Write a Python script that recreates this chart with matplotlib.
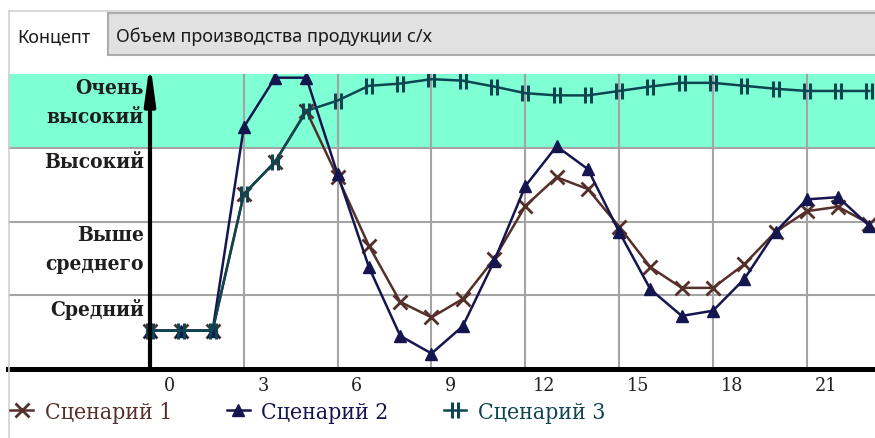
import matplotlib
matplotlib.use('Agg')
import matplotlib.pyplot as plt
import matplotlib.transforms as mtransforms
from matplotlib.path import Path
from matplotlib.lines import Line2D
from matplotlib.patches import Rectangle
import numpy as np


##########################
###        DATA        ###
##########################
STEPS = list(range(24))

SCENARIO_1 = [0.52, 0.52, 0.52, 2.37, 2.81, 3.50, 2.60, 1.67, 0.91, 0.70, 0.95, 1.49,
              2.21, 2.60, 2.44, 1.93, 1.38, 1.10, 1.10, 1.42, 1.86, 2.14, 2.20, 1.97]
SCENARIO_2 = [0.52, 0.52, 0.52, 3.28, 3.95, 3.95, 2.64, 1.38, 0.45, 0.21, 0.58, 1.46,
              2.48, 3.02, 2.71, 1.86, 1.08, 0.72, 0.79, 1.22, 1.86, 2.30, 2.33, 1.94]
SCENARIO_3 = [0.52, 0.52, 0.52, 2.37, 2.81, 3.50, 3.64, 3.84, 3.87, 3.93, 3.91, 3.83,
              3.74, 3.71, 3.71, 3.77, 3.83, 3.88, 3.88, 3.84, 3.80, 3.77, 3.77, 3.77]

SERIES_NAMES = ['Сценарий 1', 'Сценарий 2', 'Сценарий 3']

LEVELS = [1, 2, 3, 4]
LEVEL_NAMES = ['Средний', 'Выше\nсреднего', 'Высокий', 'Очень\nвысокий']

X_TICKS = [0, 3, 6, 9, 12, 15, 18, 21]
X_TICK_LABELS = ['0', '3', '6', '9', '12', '15', '18', '21']

CONCEPT_LABEL = 'Концепт'
CONCEPT_NAME = 'Объем производства продукции с/х'


##########################
###  PLOTTING CONSTANTS ###
##########################
W, H = 875, 439
COLORS = ['#55302a', '#15154f', '#0d4650']
BAND_COLOR = '#7fffd4'
GRID_COLOR = '#a4a4a4'
SERIF = 'DejaVu Serif'

# marker for scenario 3: two vertical bars crossing the line
BARS = Path([(-0.35, -1), (-0.35, 1), (0.35, -1), (0.35, 1)],
            [Path.MOVETO, Path.LINETO, Path.MOVETO, Path.LINETO])

MARKERS = [dict(marker='x', markersize=9.5, markeredgewidth=2.0),
           dict(marker='^', markersize=8.5, markeredgewidth=1.0),
           dict(marker=BARS, markersize=11.5, markeredgewidth=2.2)]


fig = plt.figure(figsize=(W / 100, H / 100), dpi=100)
fig.patch.set_facecolor('white')

# header: "Концепт" + grey box with the concept name
fig.add_artist(Line2D([9 / W, 1], [1 - 12 / H, 1 - 12 / H], color='#d2d2d2', lw=1.2))
fig.add_artist(Line2D([9 / W, 9 / W], [0, 1 - 12 / H], color='#d2d2d2', lw=1.2))
fig.add_artist(Rectangle((108 / W, 1 - 56 / H), 1.0, 42 / H, transform=fig.transFigure,
                         facecolor='#e1e1e1', edgecolor='#ababab', lw=1.5))
fig.text(17 / W, 1 - 37 / H, CONCEPT_LABEL, family='Noto Sans', fontsize=13,
         color='#1a1a1a', va='center', ha='left')
fig.text(116 / W, 1 - 37 / H, CONCEPT_NAME, family='Noto Sans', fontsize=13,
         color='#1a1a1a', va='center', ha='left')

ax = fig.add_axes([8 / W, 69 / H, 867 / W, 295 / H])
ax.set_xlim(-4.54, 23.18)
ax.set_ylim(0, 4)

ax.axhspan(3, 4.5, color=BAND_COLOR, zorder=0, lw=0)

for lv in LEVELS[:-1]:
    ax.axhline(lv, color=GRID_COLOR, lw=1.5, zorder=1)
for xt in X_TICKS[1:]:
    ax.axvline(xt, color=GRID_COLOR, lw=1.5, zorder=1)

for ys, name, c, mk in zip([SCENARIO_1, SCENARIO_2, SCENARIO_3], SERIES_NAMES, COLORS, MARKERS):
    ax.plot(STEPS, ys, color=c, lw=1.8, markerfacecolor=c, markeredgecolor=c,
            label=name, zorder=3, **mk)

# vertical arrow axis at step 0 (tip right at the top of the plot)
ax.annotate('', xy=(0, 4.16), xytext=(0, 0), annotation_clip=False,
            arrowprops=dict(arrowstyle='-|>,head_length=1.6,head_width=0.22',
                            color='black', lw=3, shrinkA=0, shrinkB=0,
                            mutation_scale=14), zorder=5)

# level names, right aligned next to the arrow, just under each gridline
for lv, name in zip(LEVELS, LEVEL_NAMES):
    ax.text(-0.2, lv - 0.04, name, ha='right', va='top', multialignment='right',
            family=SERIF, fontstretch='condensed', fontweight='bold', fontsize=15,
            color='#1e1e1e', linespacing=1.55, zorder=4)

for side in ['left', 'right', 'top']:
    ax.spines[side].set_visible(False)
ax.spines['bottom'].set_linewidth(3.6)
ax.spines['bottom'].set_color('black')
ax.spines['bottom'].set_zorder(6)

ax.set_yticks([])
ax.set_xticks(X_TICKS)
ax.set_xticklabels(X_TICK_LABELS, family=SERIF, fontstretch='condensed',
                   fontsize=14, color='#222222')
ax.tick_params(axis='x', length=0, pad=5)
offset = mtransforms.ScaledTranslation(19 / 100, 0, fig.dpi_scale_trans)
for lbl in ax.get_xticklabels():
    lbl.set_transform(lbl.get_transform() + offset)

# legend at the very bottom
handles, labels = ax.get_legend_handles_labels()
leg = fig.legend(handles, labels, loc='center left', bbox_to_anchor=(1 / W, 26 / H),
                 ncol=3, frameon=False, handlelength=1.0, handletextpad=0.5,
                 columnspacing=2.4, borderaxespad=0,
                 prop=dict(family=SERIF, stretch='condensed', size=16.5))
for txt, c in zip(leg.get_texts(), COLORS):
    txt.set_color(c)

fig.savefig('out.png', dpi=100, facecolor='white')
